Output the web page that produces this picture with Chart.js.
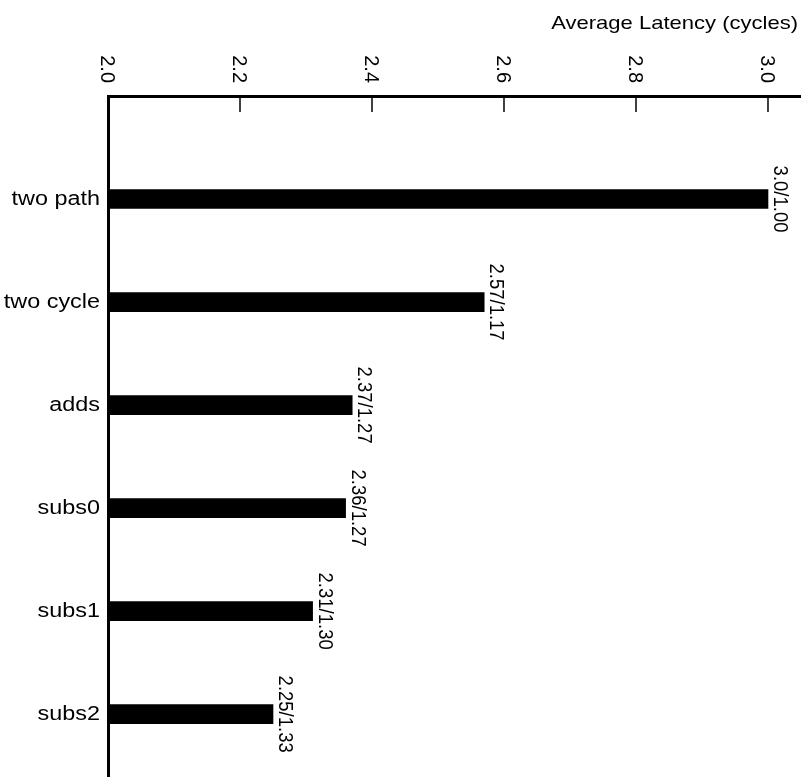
<!DOCTYPE html>
<html>
<head>
<meta charset="utf-8">
<script src="https://cdn.jsdelivr.net/npm/chart.js@4"></script>
<style>
    html, body { margin: 0; padding: 0; background: #fff; }
    #wrap { width: 804px; height: 779px; }
</style>
</head>
<body>
<div id="wrap"><canvas id="chart"></canvas></div>
<script>
const CATEGORIES = ['two path', 'two cycle', 'adds', 'subs0', 'subs1', 'subs2'];
const LATENCY = [3.0, 2.57, 2.37, 2.36, 2.31, 2.25];
const LATENCY_TEXT = ['3.0', '2.57', '2.37', '2.36', '2.31', '2.25'];
const SPEEDUP_TEXT = ['1.00', '1.17', '1.27', '1.27', '1.30', '1.33'];
const X_TICKS = [2.0, 2.2, 2.4, 2.6, 2.8, 3.0];
const X_TICK_LABELS = ['2.0', '2.2', '2.4', '2.6', '2.8', '3.0'];
const AXIS_TITLE = 'Average Latency (cycles)';
const FONT = '"Liberation Sans", Arial, Helvetica, sans-serif';

// the picture is a little wider than it is tall, so text gets a horizontal stretch
function drawText(ctx, text, x, y, opts) {
    ctx.save();
    ctx.translate(x, y);
    ctx.scale(opts.sx || 1, 1);
    if (opts.rot) ctx.rotate(opts.rot);
    ctx.font = `${opts.size}px ${FONT}`;
    ctx.fillStyle = '#000';
    ctx.textAlign = opts.align || 'left';
    ctx.textBaseline = 'alphabetic';
    ctx.fillText(text, 0, 0);
    ctx.restore();
}

const annotate = {
    id: 'annotate',
    afterDraw(chart) {
        const ctx = chart.ctx;
        const xs = chart.scales.x;
        const area = chart.chartArea;
        const bars = chart.getDatasetMeta(0).data;

        // tick marks hang down from the top axis, labels read top to bottom
        ctx.save();
        ctx.strokeStyle = '#000';
        ctx.lineWidth = 1.5;
        X_TICKS.forEach((v, i) => {
            const px = xs.getPixelForValue(v);
            ctx.beginPath();
            ctx.moveTo(px, area.top);
            ctx.lineTo(px, area.top + 16);
            ctx.stroke();
            drawText(ctx, X_TICK_LABELS[i], px - 7, area.top - 13, { size: 20, rot: Math.PI / 2, align: 'right' });
        });
        ctx.restore();

        drawText(ctx, AXIS_TITLE, 798, 28.5, { size: 18.5, sx: 1.19, align: 'right' });

        bars.forEach((bar, i) => {
            drawText(ctx, CATEGORIES[i], area.left - 8, bar.y + 6, { size: 20, sx: 1.17, align: 'right' });
            drawText(ctx, `${LATENCY_TEXT[i]}/${SPEEDUP_TEXT[i]}`, bar.x + 6, bar.y,
                { size: 18.5, sx: 1.13, rot: Math.PI / 2, align: 'center' });
        });
    },
};

new Chart(document.getElementById('chart'), {
    type: 'bar',
    data: {
        datasets: [{
            data: LATENCY.map((v, i) => ({ x: v, y: i })),
            backgroundColor: '#000',
            borderWidth: 0,
            barThickness: 19,
        }],
    },
    options: {
        indexAxis: 'y',
        responsive: true,
        maintainAspectRatio: false,
        animation: false,
        layout: { padding: { left: 108, top: 96, right: 4, bottom: 3 } },
        plugins: { legend: { display: false }, tooltip: { enabled: false } },
        scales: {
            x: {
                type: 'linear', position: 'top', min: 2.0, max: 3.0485,
                grid: { display: false, drawTicks: false },
                border: { display: true, color: '#000', width: 3 },
                ticks: { display: false },
            },
            y: {
                type: 'linear', min: -1, max: 5.6, reverse: true, offset: false,
                grid: { display: false, drawTicks: false },
                border: { display: true, color: '#000', width: 3 },
                ticks: { display: false },
            },
        },
    },
    plugins: [annotate],
});
</script>
</body>
</html>
